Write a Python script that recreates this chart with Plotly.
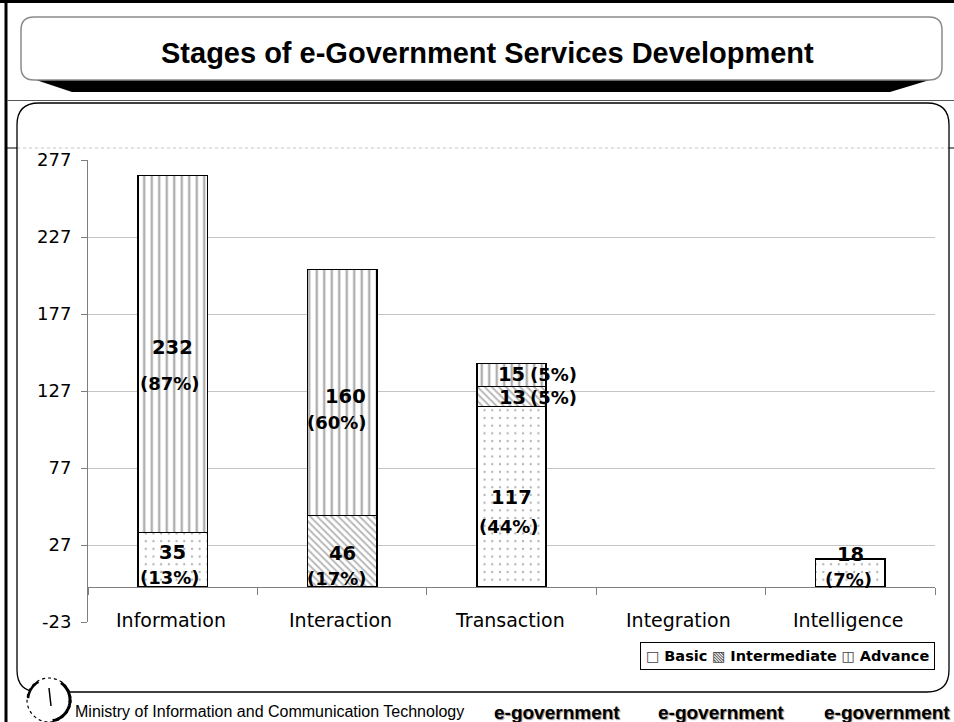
import numpy as np
import plotly.graph_objects as go

# ---- data -------------------------------------------------------------
categories = ["Information", "Interaction", "Transaction", "Integration", "Intelligence"]
basic = [35, None, 117, None, 18]
intermediate = [None, 46, 13, None, None]
advance = [232, 160, 15, None, None]
basic_pct = ["(13%)", None, "(44%)", None, "(7%)"]
intermediate_pct = [None, "(17%)", "(5%)", None, None]
advance_pct = ["(87%)", "(60%)", "(5%)", None, None]
y_ticks = [-23, 27, 77, 127, 177, 227, 277]

series_names = ["Basic", "Intermediate", "Advance"]
series_values = [basic, intermediate, advance]
series_pcts = [basic_pct, intermediate_pct, advance_pct]

# ---- canvas geometry (pixels) -----------------------------------------
W, H = 954, 722
ML, MR, MT, MB = 88, 19, 160, 100
PW, PH = W - ML - MR, H - MT - MB


def X(px):
    return (px - ML) / PW


def Y(py):
    return (H - MB - py) / PH


def rounded_rect(x0, y0, x1, y1, r):
    return (f"M {X(x0 + r)},{Y(y0)} L {X(x1 - r)},{Y(y0)} "
            f"Q {X(x1)},{Y(y0)} {X(x1)},{Y(y0 + r)} L {X(x1)},{Y(y1 - r)} "
            f"Q {X(x1)},{Y(y1)} {X(x1 - r)},{Y(y1)} L {X(x0 + r)},{Y(y1)} "
            f"Q {X(x0)},{Y(y1)} {X(x0)},{Y(y1 - r)} L {X(x0)},{Y(y0 + r)} "
            f"Q {X(x0)},{Y(y0)} {X(x0 + r)},{Y(y0)} Z")


def arc(cx, cy, r, a0, a1, n=30):
    a = np.radians(np.linspace(a0, a1, n))
    pts = [f"{X(cx + r * np.cos(t))},{Y(cy - r * np.sin(t))}" for t in a]
    return "M " + " L ".join(pts)


# ---- bar styles ---------------------------------------------------------
patterns = {
    "Basic": dict(shape=".", fgcolor="#666666", bgcolor="white", size=7.7, solidity=0.07),
    "Intermediate": dict(shape="\\", fgcolor="#6e6e6e", bgcolor="white", size=5, solidity=0.38),
    "Advance": dict(shape="|", fgcolor="#5f5f5f", bgcolor="white", size=7.5, solidity=0.32),
}

# per-label nudges: (number dx, number dy, percent dx, percent dy) in pixels
label_offsets = {
    ("Basic", "Information"): (0, 7, -3, -18),
    ("Basic", "Transaction"): (0, -1, -3, -30),
    ("Basic", "Intelligence"): (0, 18, -2, -7),
    ("Intermediate", "Interaction"): (0, -2, -5, -27),
    ("Intermediate", "Transaction"): (1, -1, 42, -1),
    ("Advance", "Information"): (0, 7, -3, -29),
    ("Advance", "Interaction"): (3, -4, -5, -30),
    ("Advance", "Transaction"): (0, 0, 42, 0),
}

fig = go.Figure()
for name, vals in zip(series_names, series_values):
    fig.add_bar(
        x=categories, y=vals, name=name,
        marker=dict(color="white", line=dict(color="black", width=1.5),
                    pattern=patterns[name]),
        showlegend=False,
    )

label_font = dict(family="DejaVu Sans", size=19.5, color="black", weight="bold")
pct_font = dict(family="DejaVu Sans", size=18, color="black", weight="bold")

annotations = []
base = [0] * len(categories)
for name, vals, pcts in zip(series_names, series_values, series_pcts):
    for i, (cat, v, p) in enumerate(zip(categories, vals, pcts)):
        if v is None:
            continue
        mid = base[i] + v / 2
        ndx, ndy, pdx, pdy = label_offsets[(name, cat)]
        annotations.append(dict(x=cat, y=mid, xref="x", yref="y", text=str(v),
                                xanchor="center", yanchor="middle",
                                showarrow=False, font=label_font,
                                xshift=ndx, yshift=ndy))
        annotations.append(dict(x=cat, y=mid, xref="x", yref="y", text=p,
                                xanchor="center", yanchor="middle",
                                showarrow=False, font=pct_font,
                                xshift=pdx, yshift=pdy))
        base[i] += v

# category labels sit on the lowest gridline with a white backing
for cat in categories:
    annotations.append(dict(x=cat, y=y_ticks[0], xref="x", yref="y", text=cat,
                            xanchor="center", yanchor="middle",
                            showarrow=False, bgcolor="white", borderpad=1,
                            font=dict(family="DejaVu Sans", size=19, color="black"),
                            xshift=-2, yshift=2))

# legend box
legend_text = ("<span style='color:#444'>□</span> <b>Basic</b> "
               "<span style='color:#444'>▧</span> <b>Intermediate</b> "
               "<span style='color:#444'>◫</span> <b>Advance</b>")
annotations.append(dict(x=X(935), y=Y(656), xref="paper", yref="paper",
                        xanchor="right", yanchor="middle", text=legend_text,
                        showarrow=False, bgcolor="white", bordercolor="black",
                        borderwidth=1, borderpad=5,
                        font=dict(family="DejaVu Sans", size=14.5, color="black")))

# slide title
annotations.append(dict(x=X(487), y=Y(53), xref="paper", yref="paper",
                        xanchor="center", yanchor="middle",
                        text="<b>Stages of e-Government Services Development</b>",
                        showarrow=False,
                        font=dict(family="Liberation Sans", size=29, color="black")))

# footer
annotations.append(dict(x=X(73), y=Y(711), xref="paper", yref="paper",
                        xanchor="left", yanchor="middle",
                        text="Ministry of Information and Communication Technology",
                        showarrow=False,
                        font=dict(family="Liberation Sans", size=16, color="black")))
for cx in (557, 721, 887):
    annotations.append(dict(x=X(cx), y=Y(712), xref="paper", yref="paper",
                            xanchor="center", yanchor="middle",
                            text="e-government", showarrow=False,
                            font=dict(family="Liberation Sans", size=19, color="black",
                                      weight="bold", shadow="1px 1px 1px #8c8c8c")))

# ---- slide frame shapes -------------------------------------------------
shapes = [
    # outer border
    dict(type="line", xref="paper", yref="paper", x0=X(0), x1=X(W), y0=Y(1.5), y1=Y(1.5),
         line=dict(color="black", width=3)),
    dict(type="line", xref="paper", yref="paper", x0=X(6), x1=X(6), y0=Y(0), y1=Y(H),
         line=dict(color="black", width=3)),
    # title ribbon and rounded title box
    dict(type="path", xref="paper", yref="paper",
         path=f"M {X(33)},{Y(79)} L {X(933)},{Y(79)} L {X(890)},{Y(92)} L {X(72)},{Y(92)} Z",
         fillcolor="black", line=dict(color="black", width=0)),
    dict(type="path", xref="paper", yref="paper", path=rounded_rect(21, 17, 942, 80, 13),
         fillcolor="white", line=dict(color="#8a8a8a", width=1.5)),
    # separator under title
    dict(type="line", xref="paper", yref="paper", x0=X(7), x1=X(W), y0=Y(100.5), y1=Y(100.5),
         line=dict(color="#555555", width=1)),
    # dotted guide
    dict(type="line", xref="paper", yref="paper", x0=X(17), x1=X(949), y0=Y(148), y1=Y(148),
         line=dict(color="#c4c4c4", width=1, dash="dot")),
    dict(type="line", xref="paper", yref="paper", x0=X(7), x1=X(17), y0=Y(148), y1=Y(148),
         line=dict(color="black", width=1)),
    dict(type="line", xref="paper", yref="paper", x0=X(949), x1=X(W), y0=Y(148), y1=Y(148),
         line=dict(color="black", width=1)),
    # chart panel
    dict(type="path", xref="paper", yref="paper", path=rounded_rect(17, 103, 949, 692, 22),
         line=dict(color="black", width=1.3)),
    # ministry emblem
    dict(type="circle", xref="paper", yref="paper", x0=X(27), x1=X(71), y0=Y(678), y1=Y(722),
         fillcolor="white", line=dict(color="black", width=1.2, dash="dot")),
    dict(type="path", xref="paper", yref="paper", path=arc(49, 700, 21, 55, -80),
         line=dict(color="black", width=3)),
    dict(type="path", xref="paper", yref="paper", path=arc(49, 700, 21, 120, 175),
         line=dict(color="black", width=2.5)),
    dict(type="line", xref="paper", yref="paper", x0=X(49), x1=X(51), y0=Y(688), y1=Y(706),
         line=dict(color="black", width=1.5)),
]

fig.update_layout(
    width=W, height=H, autosize=False,
    margin=dict(l=ML, r=MR, t=MT, b=MB, pad=0),
    paper_bgcolor="white", plot_bgcolor="white",
    barmode="stack", bargap=0.59,
    showlegend=False,
    xaxis=dict(type="category", range=[-0.5, 4.5], anchor="free",
               position=(0 - y_ticks[0]) / (y_ticks[-1] - y_ticks[0]),
               showline=True, linecolor="#7f7f7f", linewidth=1,
               ticks="outside", ticklen=7, tickcolor="#7f7f7f", tickson="boundaries",
               showticklabels=False, showgrid=False, zeroline=False),
    yaxis=dict(range=[y_ticks[0], y_ticks[-1]], tickvals=y_ticks,
               ticktext=[str(v) for v in y_ticks],
               showgrid=True, gridcolor="#c4c4c4", gridwidth=1,
               showline=True, linecolor="#7f7f7f", linewidth=1,
               ticks="outside", ticklen=6, tickcolor="#7f7f7f",
               zeroline=False, ticklabelstandoff=6,
               tickfont=dict(family="DejaVu Sans", size=18, color="black")),
    annotations=annotations,
    shapes=shapes,
)

fig.write_html("out.html")
